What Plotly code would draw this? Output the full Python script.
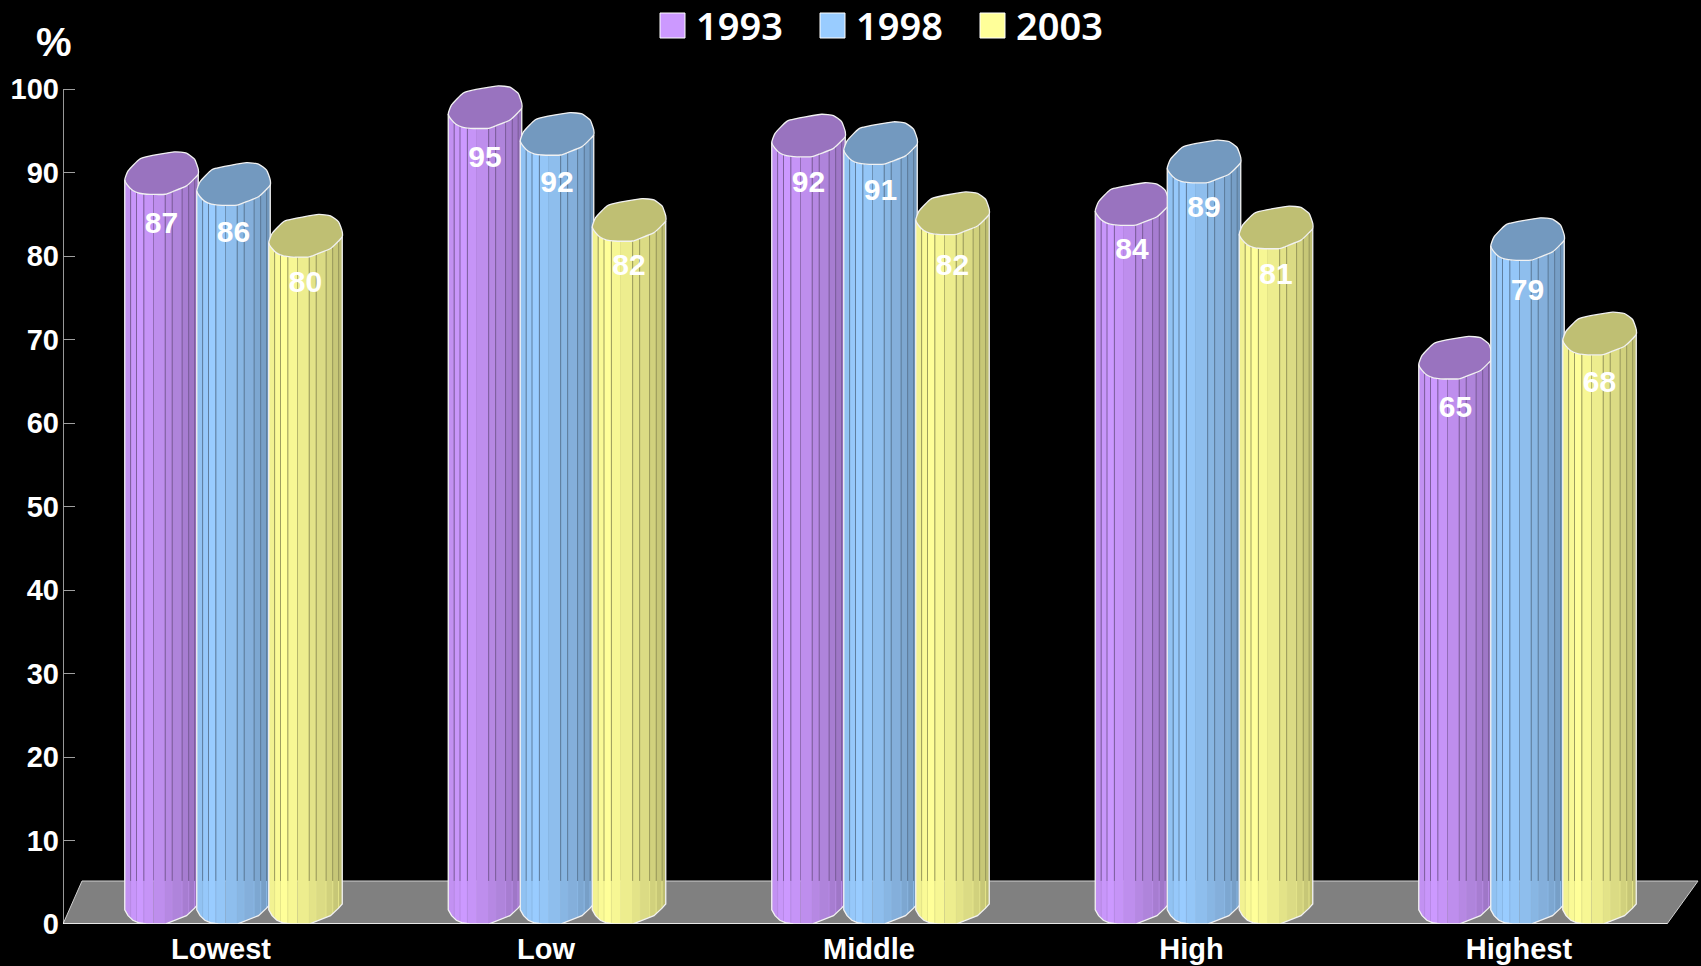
import plotly.graph_objects as go

categories = ["Lowest", "Low", "Middle", "High", "Highest"]
years = ["1993", "1998", "2003"]
# printed value labels
values_1993 = [87, 95, 92, 84, 65]
values_1998 = [86, 92, 91, 89, 79]
values_2003 = [80, 82, 82, 81, 68]
# bar heights
heights_1993 = [87.4, 95.3, 91.9, 83.7, 65.3]
heights_1998 = [86.1, 92.1, 91.0, 88.8, 79.5]
heights_2003 = [79.9, 81.8, 82.6, 80.9, 68.2]
y_ticks = [0, 10, 20, 30, 40, 50, 60, 70, 80, 90, 100]
x_label_pos = [0, 1.005, 2.003, 3.0, 4.012]

W, H = 1701, 966
L, T, B = 63, 64, 42
Y_MAX = 103
PX = 323.5            # pixels per category
X0 = 221              # pixel of first category tick
x_range = [(L - X0) / PX, (W - X0) / PX]
BAR_W = 73.5 / PX
STEP = 72 / PX
OFFSET = 12.5 / PX
FLOOR_H = 5.15

base = {"1993": (204, 153, 255), "1998": (153, 204, 255), "2003": (255, 255, 153)}
labels = {"1993": values_1993, "1998": values_1998, "2003": values_2003}
heights = {"1993": heights_1993, "1998": heights_1998, "2003": heights_2003}

# front edge of a cylinder: u across the width, height in value units
front_curve = [(0, 1.7), (0.045, 1.0), (0.11, 0.45), (0.2, 0.12), (0.3, 0), (0.55, 0),
               (0.66, 0.35), (0.84, 1.0), (0.95, 1.9), (1, 2.4)]
back_curve = [(1, 3.0), (0.95, 4.2), (0.84, 4.92), (0.68, 5.08), (0.25, 4.4), (0.2, 4.2),
              (0.045, 2.8), (0, 1.7)]
strip_u = [0, 0.08, 0.16, 0.26, 0.39, 0.55, 0.645, 0.78, 0.87, 0.95, 1]
strip_shade = [0.95, 0.98, 1.0, 0.97, 0.93, 0.89, 0.86, 0.82, 0.78, 0.74]
line_u = [0.08, 0.16, 0.26, 0.55, 0.645, 0.78, 0.87, 0.95]


def front(u):
    for (u0, v0), (u1, v1) in zip(front_curve, front_curve[1:]):
        if u0 <= u <= u1:
            return v0 + (v1 - v0) * (u - u0) / (u1 - u0)
    return front_curve[-1][1]


def rgb(c, k=1.0):
    return "rgb(%d,%d,%d)" % tuple(round(v * k) for v in c)


def bar_x(i, s, u=0.0):
    return i + OFFSET + (s - 1) * STEP - BAR_W / 2 + u * BAR_W


def paper_x(px):
    return (px - L) / (W - L)


def paper_y(px):
    return 1 - (px - T) / (H - T - B)


fig = go.Figure()

for s, year in enumerate(years):
    vals = heights[year]
    c = base[year]
    # shaded vertical strips
    for k, shade in enumerate(strip_shade):
        xs, ys = [], []
        a, b = strip_u[k], strip_u[k + 1]
        inner = [p for p, _ in front_curve if a < p < b]
        us = [a] + inner + [b]
        for i, v in enumerate(vals):
            xs += [bar_x(i, s, u) for u in us] + [bar_x(i, s, u) for u in reversed(us)] + [None]
            ys += [front(u) for u in us] + [v + front(u) for u in reversed(us)] + [None]
        fig.add_trace(go.Scatter(x=xs, y=ys, mode="lines", fill="toself", fillcolor=rgb(c, shade),
                                 line=dict(width=0), hoverinfo="skip", showlegend=False, cliponaxis=False))
    # dark ribs
    xs, ys = [], []
    for i, v in enumerate(vals):
        for u in line_u:
            xs += [bar_x(i, s, u)] * 2 + [None]
            ys += [front(u) + v, FLOOR_H, None]
    fig.add_trace(go.Scatter(x=xs, y=ys, mode="lines", line=dict(width=1, color=rgb(c, 0.62)),
                             hoverinfo="skip", showlegend=False, cliponaxis=False))
    # faint ribs over the floor
    xs, ys = [], []
    for i, v in enumerate(vals):
        for u in line_u:
            xs += [bar_x(i, s, u)] * 2 + [None]
            ys += [FLOOR_H, front(u), None]
    fig.add_trace(go.Scatter(x=xs, y=ys, mode="lines", line=dict(width=1, color=rgb(c, 0.9)),
                             hoverinfo="skip", showlegend=False, cliponaxis=False))
    # top caps
    xs, ys = [], []
    for i, v in enumerate(vals):
        for u, h in front_curve + back_curve:
            xs.append(bar_x(i, s, u))
            ys.append(v + h)
        xs.append(None)
        ys.append(None)
    fig.add_trace(go.Scatter(x=xs, y=ys, mode="lines", fill="toself", fillcolor=rgb(c, 0.75),
                             line=dict(width=1.3, color="#f2f2f2", shape="spline", smoothing=0.5),
                             hoverinfo="skip", showlegend=False, cliponaxis=False))
    # silhouette
    xs, ys = [], []
    for i, v in enumerate(vals):
        xs += [bar_x(i, s, 0), bar_x(i, s, 0)] + [bar_x(i, s, u) for u, _ in front_curve]
        xs += [bar_x(i, s, 1), None]
        ys += [v + front(0), front(0)] + [h for _, h in front_curve] + [v + front(1), None]
    fig.add_trace(go.Scatter(x=xs, y=ys, mode="lines", line=dict(width=1.3, color="#f2f2f2"),
                             hoverinfo="skip", showlegend=False, cliponaxis=False))

# value labels
for s, year in enumerate(years):
    vals = labels[year]
    fig.add_trace(go.Scatter(
        x=[bar_x(i, s, 0.5) for i in range(len(vals))], y=[v - 3.4 for v in vals],
        mode="text", text=[str(v) for v in vals], name=year, showlegend=False, cliponaxis=False,
        textfont=dict(family="Liberation Sans", size=30, color="white", weight="bold"),
        hovertemplate="%{text}<extra>" + year + "</extra>"))

# floor, drawn in axis units behind the bars
fx = lambda px: (px - X0) / PX
floor_path = "M %f,0 L %f,%f L %f,%f L %f,0 Z" % (fx(L), fx(82), FLOOR_H, fx(1698), FLOOR_H, fx(1667))
shapes = [dict(type="path", path=floor_path, xref="x", yref="y", fillcolor="#808080",
               line=dict(color="#d0d0d0", width=1), layer="below"),
          dict(type="line", xref="x", yref="y", x0=fx(L), x1=fx(1667), y0=0, y1=0,
               line=dict(color="white", width=1.5), layer="below"),
          dict(type="line", xref="x", yref="y", x0=fx(L), x1=fx(L), y0=0, y1=100,
               line=dict(color="white", width=1.2), layer="below")]

annotations = [dict(text="%", xref="paper", yref="paper", x=paper_x(54), y=paper_y(42),
                    xanchor="center", yanchor="middle", showarrow=False,
                    font=dict(family="Liberation Sans", size=40, color="white", weight="bold"))]

# legend row
for (year, sw, tx) in zip(years, [660, 820, 980], [695, 855, 1015]):
    c = base[year]
    shapes.append(dict(type="rect", xref="paper", yref="paper",
                       x0=paper_x(sw), x1=paper_x(sw + 25), y0=paper_y(38), y1=paper_y(13),
                       fillcolor=rgb(c), line=dict(color="white", width=1)))
    annotations.append(dict(text=year, xref="paper", yref="paper", xanchor="left", yanchor="middle",
                            x=paper_x(tx), y=paper_y(25), showarrow=False,
                            font=dict(family="Noto Sans", size=38, color="white", weight=600), borderpad=0))

fig.update_layout(
    width=W, height=H, autosize=False,
    margin=dict(l=L, r=0, t=T, b=B, pad=0, autoexpand=False),
    paper_bgcolor="black", plot_bgcolor="black",
    showlegend=False, shapes=shapes, annotations=annotations,
    font=dict(family="Liberation Sans", color="white"),
    xaxis=dict(range=x_range, tickmode="array", tickvals=x_label_pos, ticktext=categories,
               showgrid=False, zeroline=False, showline=False, ticks="", automargin=False,
               ticklabelstandoff=5,
               tickfont=dict(family="Liberation Sans", size=29, color="white", weight="bold")),
    yaxis=dict(range=[0, Y_MAX], tickmode="array", tickvals=y_ticks, showgrid=False, zeroline=False,
               showline=False, ticks="inside", ticklen=12, ticklabelstandoff=3,
               tickcolor="#a0a0a0", tickwidth=1, automargin=False,
               tickfont=dict(family="Liberation Sans", size=29, color="white", weight="bold")),
)

fig.write_html("out.html", config={"displayModeBar": False},
               post_script="document.documentElement.style.background='black';"
                           "document.body.style.margin='0';document.body.style.background='black';"
                           "document.body.style.overflow='hidden';")
